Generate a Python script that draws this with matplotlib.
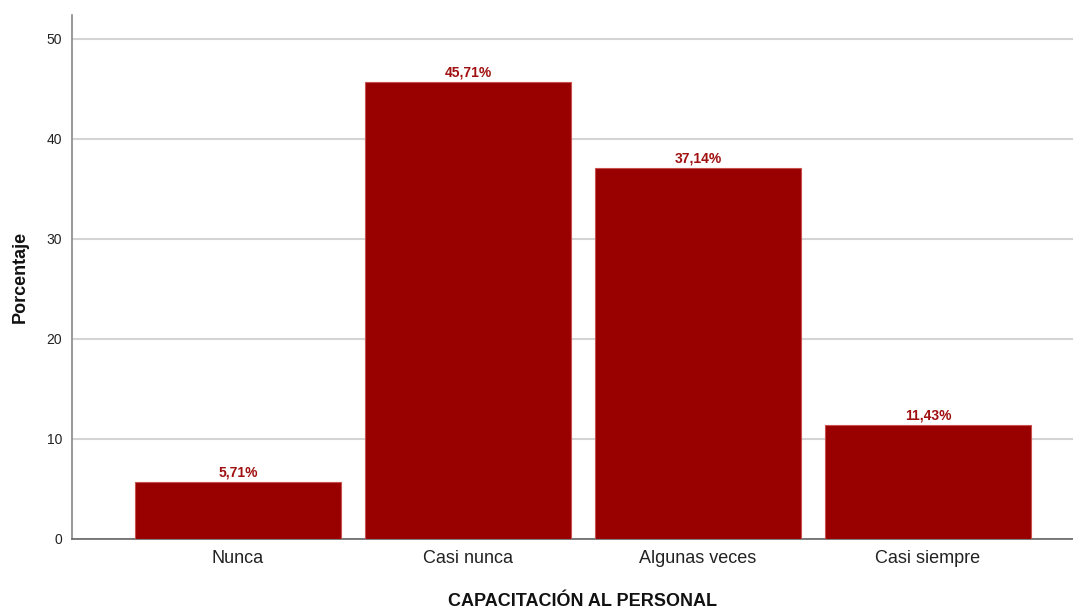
import matplotlib.pyplot as plt

plt.rcParams['font.family'] = ['Liberation Sans', 'DejaVu Sans']

categorias = ['Nunca', 'Casi nunca', 'Algunas veces', 'Casi siempre']
porcentajes = [5.71, 45.71, 37.14, 11.43]
yticks = [0, 10, 20, 30, 40, 50]

W, H = 1073, 610
fig = plt.figure(figsize=(W / 100, H / 100), dpi=100)
ax = fig.add_axes([72 / W, (H - 539) / H, (W - 72) / W, (539 - 15) / H])

x = list(range(len(categorias)))
ax.bar(x, porcentajes, width=0.896, color='#990000', edgecolor='#c8504f',
       linewidth=0.8, zorder=3)

# etiquetas de porcentaje sobre cada barra
for xi, v in zip(x, porcentajes):
    ax.text(xi, v + 0.25, f'{v:.2f}%'.replace('.', ','), ha='center', va='bottom',
            fontsize=10, fontweight='bold', color='#a01010', zorder=4)

ax.set_xlim(-0.7217, 3.6304)
ax.set_ylim(0, 52.4)
ax.set_yticks(yticks)
ax.set_xticks(x)
ax.set_xticklabels(categorias, fontsize=13, color='#222222')
ax.tick_params(axis='y', length=0, pad=7, labelsize=10, labelcolor='#222222')
ax.tick_params(axis='x', length=0, pad=8)
ax.grid(axis='y', color='#d4d4d4', linewidth=1.5, zorder=0)

for s in ['top', 'right']:
    ax.spines[s].set_visible(False)
ax.spines['left'].set_color('#888888')
ax.spines['bottom'].set_color('#666666')
ax.spines['left'].set_linewidth(1.2)
ax.spines['bottom'].set_linewidth(1.2)

fig.text(20 / W, 1 - 277 / H, 'Porcentaje', rotation=90, ha='center', va='center',
         fontsize=13, fontweight='bold', color='#111111')
fig.text(583 / W, 1 - 602 / H, 'CAPACITACIÓN AL PERSONAL', ha='center', va='center',
         fontsize=13, fontweight='bold', color='#111111')

fig.savefig('out.png', dpi=100)
